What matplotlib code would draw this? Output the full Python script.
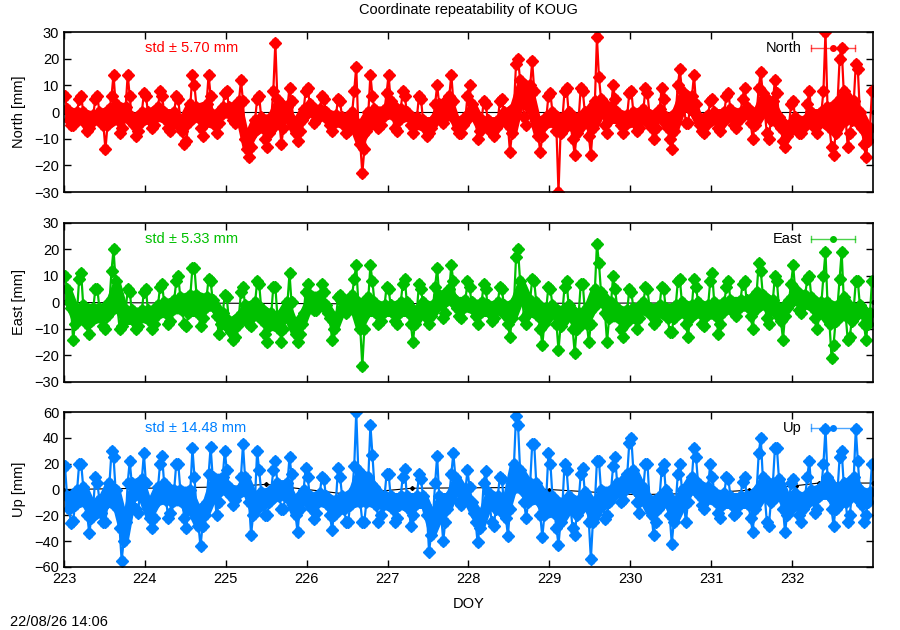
import numpy as np
import matplotlib.pyplot as plt

plt.rcParams['font.family'] = ['Liberation Sans', 'DejaVu Sans']
plt.rcParams['font.size'] = 10.5

# 0.1-day bins starting at DOY 223.0; per bin: upper edge, inner upper, inner lower,
# lower edge of the point cloud (mm)
bin_start = 223.0
bin_width = 0.1

north_hi = [6, 5, 6, 5, 6, 6, 14, 14, 6, 7,
            6, 8, 6, 6, 5, 14, 10, 14, 6, 7,
            8, 12, 4, 5, 6, 8, 26, 9, 4, 8,
            9, 6, 5, 5, 4, 8, 17, 14, 6, 7,
            14, 8, 6, 6, 5, 3, 10, 14, 4, 6,
            10, 4, 3, 4, 5, 18, 20, 19, 8, 6,
            7, 8, 9, 9, 8, 28, 13, 10, 5, 7,
            8, 9, 7, 9, 5, 10, 16, 14, 3, 4,
            5, 6, 7, 5, 9, 9, 15, 12, 7, 3,
            4, 3, 8, 8, 30, 20, 24, 18, 16, 8]
north_mid = [1, 0, 0, -1, 0, 1, 3, 2, -2, 0,
             0, 2, 0, 0, -3, 3, 2, 3, -1, 2,
             2, 4, -10, -3, -2, -2, 5, 2, -4, 1,
             3, 1, 0, -1, -2, 0, -5, 0, 1, 1,
             4, 1, 0, -2, -3, -3, 3, 6, -3, -2,
             3, -3, -3, -3, 0, 2, 12, 10, -3, -2,
             0, -2, 0, -2, 0, 4, 5, 2, 0, -1,
             0, 1, -1, 1, -2, 0, 8, 6, -2, -1,
             0, 0, 1, 0, 2, 0, 7, 4, -2, -5,
             -2, -3, 0, 0, 2, 4, 8, 4, 0, -6]
north_mid2 = [-3, -3, -4, -4, -3, -5, -3, -2, -5, -4,
              -3, -2, -3, -4, -7, -4, -2, -4, -5, -1,
              -1, 0, -14, -8, -6, -8, -4, -2, -8, -3,
              0, -1, -3, -4, -5, -4, -12, -7, -3, -2,
              -1, -3, -2, -5, -6, -6, -1, 2, -6, -5,
              -1, -7, -6, -6, -3, -8, 5, 2, -9, -5,
              -4, -8, -5, -8, -4, -6, 0, -3, -3, -5,
              -4, -3, -6, -2, -6, -7, 2, 1, -5, -5,
              -3, -4, -2, -3, -1, -5, 0, -3, -6, -9,
              -5, -6, -3, -4, -6, -8, -3, -3, -6, -11]
north_lo = [-5, -5, -7, -6, -5, -14, -8, -6, -9, -7,
            -6, -5, -6, -7, -12, -11, -6, -9, -8, -4,
            -3, -4, -17, -13, -10, -13, -12, -6, -11, -7,
            -4, -3, -5, -7, -8, -7, -23, -14, -6, -5,
            -6, -7, -5, -8, -9, -8, -4, -2, -8, -8,
            -2, -10, -8, -9, -5, -15, -2, -5, -15, -9,
            -7, -30, -10, -16, -9, -16, -5, -8, -5, -8,
            -7, -6, -10, -6, -10, -14, -4, -4, -7, -8,
            -6, -7, -5, -6, -4, -10, -8, -10, -11, -13,
            -8, -8, -6, -8, -13, -16, -13, -8, -12, -17]

east_hi = [10, 9, 11, 5, 5, 12, 20, 5, 4, 4,
           5, 6, 7, 8, 10, 13, 13, 9, 8, 3,
           2, 4, 6, 8, 7, 6, 6, 11, 0, 4,
           7, 7, 4, 2, 3, 9, 14, 14, 8, 6,
           5, 7, 9, 7, 5, 6, 13, 14, 8, 8,
           6, 7, 5, 6, 5, 17, 20, 9, 8, 6,
           5, 6, 8, 7, 7, 22, 15, 10, 5, 5,
           4, 6, 5, 6, 5, 8, 9, 9, 6, 8,
           11, 6, 8, 7, 8, 15, 12, 10, 8, 7,
           14, 9, 10, 10, 19, 9, 19, 8, 8, 8]
east_mid = [5, -3, -1, -2, -2, 0, 8, -3, -3, -3,
            -3, -1, 0, 1, 2, 3, 3, 2, 1, -4,
            -7, -5, -1, 0, -2, -4, -5, 0, -8, -4,
            3, 3, -1, -6, 0, 3, 0, 2, 0, -1,
            -1, 0, 0, -3, 0, -1, 3, 5, 1, 1,
            0, 0, -1, 0, -1, 0, 8, 1, 0, -2,
            -1, -3, -1, -4, -3, 5, 4, 0, -2, -3,
            -2, 0, -2, -1, -2, -1, 0, -1, 0, -1,
            0, 0, 1, 1, 1, 4, 3, 1, -2, 1,
            5, 3, 2, 0, 0, -1, 2, -2, -1, -4]
east_mid2 = [0, -8, -5, -7, -6, -5, -2, -7, -7, -6,
             -7, -5, -4, -3, -3, -4, -4, -2, -2, -8,
             -11, -9, -5, -5, -7, -9, -10, -5, -12, -8,
             0, 0, -4, -10, -2, 0, -10, -4, -4, -4,
             -4, -4, -4, -8, -3, -5, -1, 1, -2, -2,
             -3, -4, -4, -3, -5, -6, 2, -4, -5, -8,
             -4, -9, -5, -10, -8, -2, 0, -6, -6, -8,
             -6, -3, -5, -4, -6, -6, -4, -6, -4, -5,
             -5, -4, -2, -2, -2, -3, -1, -3, -7, -2,
             1, -1, -2, -4, -8, -7, -5, -7, -4, -8]
east_lo = [-2, -14, -8, -12, -9, -10, -10, -9, -10, -9,
           -10, -8, -8, -7, -8, -9, -9, -6, -5, -12,
           -14, -13, -8, -9, -12, -15, -15, -10, -15, -12,
           -3, -3, -6, -14, -4, -2, -24, -10, -8, -7,
           -7, -8, -8, -15, -6, -8, -6, -4, -5, -6,
           -5, -8, -7, -6, -8, -13, -6, -8, -10, -16,
           -8, -18, -10, -19, -15, -8, -4, -15, -10, -13,
           -10, -6, -8, -7, -11, -11, -8, -13, -8, -9,
           -12, -8, -4, -5, -5, -10, -6, -8, -14, -5,
           -3, -4, -6, -10, -21, -16, -14, -13, -8, -14]

up_hi = [18, 20, 20, 10, 5, 30, 25, 5, 22, 28,
         5, 20, 26, 20, 20, 32, 10, 12, 33, 30,
         15, 10, 35, 30, 15, 15, 22, 25, 12, 17,
         10, 10, 8, 17, 10, 18, 60, 50, 27, 12,
         12, 10, 16, 12, 8, 5, 26, 12, 28, 15,
         2, 5, 14, 10, 8, 57, 50, 35, 35, 28,
         20, 20, 15, 12, 17, 22, 22, 18, 25, 36,
         40, 20, 20, 15, 20, 12, 20, 32, 25, 20,
         10, 10, 8, 6, 10, 28, 40, 32, 32, 5,
         8, 10, 22, 20, 47, 25, 30, 47, 22, 20]
up_mid = [-5, 0, 2, -12, -8, 5, 0, -25, 5, 8,
          -12, 2, 5, 0, 0, 0, -15, -10, 10, 10,
          2, 0, 10, -5, -2, 0, 5, 5, -8, 0,
          -5, -3, -5, -8, -5, -2, 15, 10, 2, -5,
          -5, -5, -5, -5, -5, -20, -5, -5, 10, 0,
          -10, -20, -2, -5, -10, 20, 15, 5, 5, -5,
          -5, -10, -5, -8, -2, -10, 0, 0, 5, 12,
          15, 2, -8, -5, 0, -10, 0, 10, 5, 2,
          -2, -3, -5, -5, -5, 0, 10, 5, 8, -8,
          -3, -5, 0, 2, 10, 0, 5, 10, 0, -2]
up_mid2 = [-15, -12, -10, -22, -18, -10, -15, -40, -5, -5,
           -22, -10, -8, -10, -10, -15, -28, -20, -5, 0,
           -5, -4, -2, -20, -12, -10, -5, -5, -20, -8,
           -15, -10, -12, -20, -15, -12, -10, -10, -12, -12,
           -15, -12, -15, -12, -12, -35, -20, -15, 0, -5,
           -18, -30, -12, -15, -22, 0, 0, -10, -8, -20,
           -18, -25, -15, -20, -12, -25, -12, -10, -2, 0,
           0, -8, -20, -15, -10, -25, -12, 0, -5, -8,
           -10, -12, -12, -12, -12, -15, -5, -10, -5, -20,
           -12, -15, -8, -5, -5, -15, -10, -5, -12, -10]
up_lo = [-26, -24, -20, -34, -25, -25, -30, -55, -15, -18,
         -30, -22, -22, -18, -22, -30, -44, -28, -20, -10,
         -12, -8, -10, -35, -20, -20, -15, -15, -33, -15,
         -23, -18, -20, -31, -25, -25, -25, -25, -25, -20,
         -25, -22, -28, -20, -20, -48, -40, -25, -10, -12,
         -25, -41, -25, -28, -36, -15, -10, -22, -20, -37,
         -30, -43, -30, -35, -25, -54, -23, -20, -10, -8,
         -10, -18, -35, -25, -20, -42, -25, -10, -12, -15,
         -18, -22, -20, -18, -22, -33, -25, -28, -15, -33,
         -20, -25, -18, -15, -15, -28, -25, -20, -25, -20]

# thin black reference line that shows through the gaps
north_ref_doy = [223, 233]
north_ref = [0, 0]
east_ref_doy = [223, 226.5, 233]
east_ref = [0, -0.5, 0]
up_ref_doy = [223, 224, 225, 225.5, 225.8, 226.5, 227.3, 228.5, 229,
              230.07, 230.85, 231.47, 232.05, 232.33, 233]
up_ref = [0, 1, 2, 4, 1.5, -3.6, 1, 1.5, 0, -4, -3, -0.5, 3, 5, 5]

panels = [
    ('North', 'North [mm]', [north_hi, north_mid, north_mid2, north_lo],
     north_ref_doy, north_ref, 'std \u00b1 5.70 mm', '#ff0000', 1.5, 30, 10),
    ('East', 'East [mm]', [east_hi, east_mid, east_mid2, east_lo],
     east_ref_doy, east_ref, 'std \u00b1 5.33 mm', '#00c000', 1.5, 30, 10),
    ('Up', 'Up [mm]', [up_hi, up_mid, up_mid2, up_lo],
     up_ref_doy, up_ref, 'std \u00b1 14.48 mm', '#0080ff', 3.0, 60, 20),
]

boxes = [[0.0711, 0.6952, 0.8989, 0.254],
         [0.0711, 0.3937, 0.8989, 0.2524],
         [0.0711, 0.1000, 0.8989, 0.246]]


def bin_series(levels):
    xs, ys = [], []
    n_lev = len(levels)
    for i in range(len(levels[0])):
        vals = [lev[i] for lev in levels]
        if i % 2 == 1:
            vals = vals[::-1]
        for j, v in enumerate(vals):
            xs.append(bin_start + bin_width * (i + (2 * j + 1) / (2 * n_lev)))
            ys.append(v)
    return np.array(xs), np.array(ys)


fig = plt.figure(figsize=(9, 6.3), dpi=100)
fig.text(0.52, 0.984, 'Coordinate repeatability of KOUG', ha='center', va='center')

for k, (name, ylab, levels, rdoy, rval, stdtxt, col, sig, lim, step) in enumerate(panels):
    ax = fig.add_axes(boxes[k])
    ax.plot(rdoy, rval, color='black', lw=0.8, marker='D', ms=2, zorder=1)

    # dense core of the point cloud
    centres = bin_start + bin_width * (np.arange(len(levels[0])) + 0.5)
    ax.fill_between(centres, levels[2], levels[1], color=col, lw=5,
                    edgecolor=col, zorder=2)

    x, y = bin_series(levels)
    ax.errorbar(x, y, yerr=sig, fmt='-', marker='D', ms=6.5, color=col, ecolor=col,
                elinewidth=1, lw=1.6, capsize=2.5, capthick=1, zorder=2)

    ax.set_xlim(223, 233)
    ax.set_ylim(-lim, lim)
    ax.set_yticks(np.arange(-lim, lim + 1, step))
    ax.set_xticks(np.arange(223, 233, 1))
    ax.tick_params(direction='in', top=True, right=True, length=5, width=1,
                   labelsize=10.5)
    for s in ax.spines.values():
        s.set_linewidth(1.2)
        s.set_zorder(5)
    if k < 2:
        ax.set_xticklabels([])
    else:
        ax.set_xlabel('DOY', labelpad=8)
    ax.set_ylabel(ylab, labelpad=6)

    ax.text(0.1, 0.9, stdtxt, color=col, transform=ax.transAxes, va='center')
    # gnuplot-style key sample: horizontal bar with end caps and a point
    ax.plot([0.923, 0.978], [0.9, 0.9], color=col, lw=1, alpha=0.7,
            transform=ax.transAxes, zorder=3)
    ax.plot([0.923, 0.923], [0.88, 0.92], color=col, lw=1, alpha=0.7,
            transform=ax.transAxes, zorder=3)
    ax.plot([0.978, 0.978], [0.88, 0.92], color=col, lw=1, alpha=0.7,
            transform=ax.transAxes, zorder=3)
    ax.plot([0.9505], [0.9], color=col, marker='o', ms=4,
            transform=ax.transAxes, zorder=3)
    ax.text(0.912, 0.9, name, ha='right', va='center', transform=ax.transAxes)

fig.text(0.011, 0.013, '22/08/26 14:06', ha='left', va='center')

fig.savefig('out.png', dpi=100)
